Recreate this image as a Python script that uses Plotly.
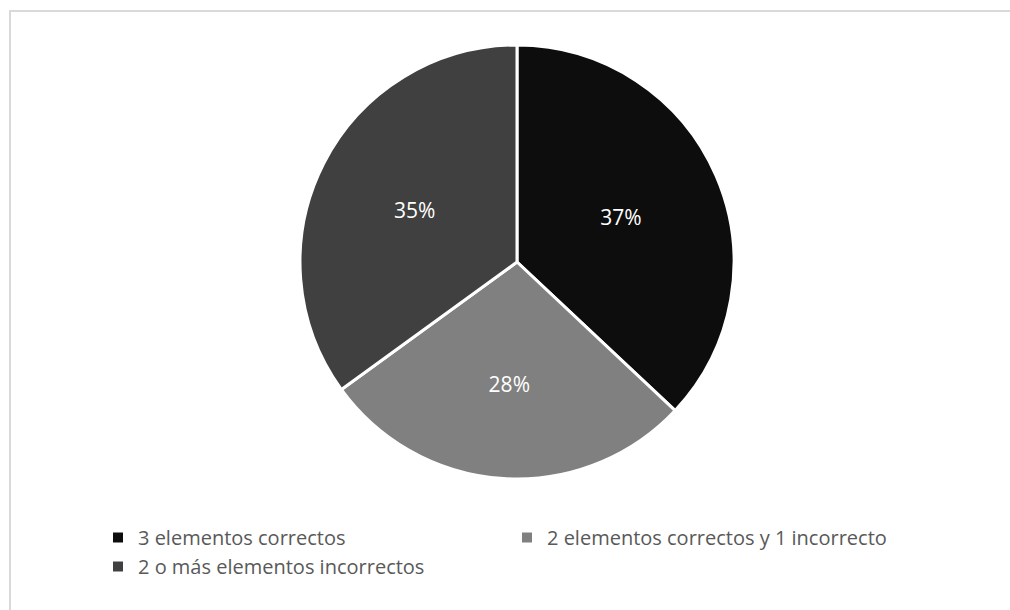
import plotly.graph_objects as go

labels = ["3 elementos correctos", "2 elementos correctos y 1 incorrecto", "2 o más elementos incorrectos"]
values = [37, 28, 35]
colors = ["#0d0d0d", "#808080", "#404040"]

W, H = 1010, 610
cx, cy, r = 517, 262, 217

fig = go.Figure(go.Pie(
    labels=labels, values=values, sort=False, direction="clockwise", rotation=0,
    marker=dict(colors=colors, line=dict(color="white", width=3)),
    texttemplate="%{percent:.0%}", textposition="inside", insidetextorientation="horizontal",
    textfont=dict(color="white", size=21, family="Open Sans"),
    domain=dict(x=[(cx - r) / W, (cx + r) / W], y=[1 - (cy + r) / H, 1 - (cy - r) / H]),
    hoverinfo="label+percent",
))

border = dict(color="#d9d9d9", width=2)
fig.update_layout(
    width=W, height=H, margin=dict(l=0, r=0, t=0, b=0),
    paper_bgcolor="white", plot_bgcolor="white",
    font=dict(family="Open Sans", color="#595959"),
    legend=dict(orientation="h", x=98 / W, y=1 - 518 / H, xanchor="left", yanchor="top",
                entrywidth=364, font=dict(size=20, color="#595959"), itemsizing="constant"),
    shapes=[
        dict(type="line", xref="paper", yref="paper", x0=9 / W, x1=1, y0=1 - 11 / H, y1=1 - 11 / H,
             line=border, layer="below"),
        dict(type="line", xref="paper", yref="paper", x0=10 / W, x1=10 / W, y0=0, y1=1 - 10 / H,
             line=border, layer="below"),
    ],
)

fig.write_html("out.html", config={"displayModeBar": False},
               post_script="document.body.style.margin='0';document.body.style.overflow='hidden';")
